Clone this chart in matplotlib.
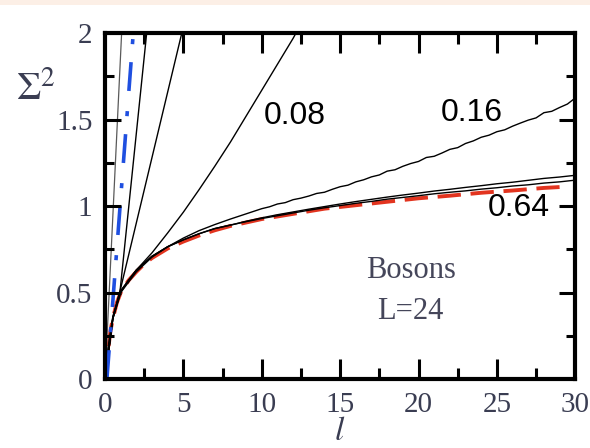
import numpy as np
import matplotlib.pyplot as plt
from matplotlib.patches import Rectangle
from matplotlib.ticker import MultipleLocator

plt.rcParams['mathtext.fontset'] = 'stix'

# 平衡曲线（红色虚线）
l_eq = [0, 0.1, 0.2, 0.35, 0.5, 0.75, 1, 1.5, 2, 2.5, 3, 4, 5, 6, 7, 8, 9, 10,
        12, 14, 16, 18, 20, 22, 24, 26, 28, 29]
s_eq = [0, 0.08, 0.17, 0.28, 0.35, 0.44, 0.50, 0.57, 0.62, 0.665, 0.70, 0.755,
        0.795, 0.83, 0.86, 0.885, 0.905, 0.925, 0.955, 0.985, 1.005, 1.025,
        1.045, 1.06, 1.077, 1.09, 1.105, 1.11]

# 黑色曲线（接近平衡，0.64 一族）
l_late = [0, 0.2, 0.5, 1, 2, 3, 4, 5, 6, 7, 8, 9, 10, 11, 12, 13, 14, 15, 16, 17,
          18, 19, 20, 21, 22, 23, 24, 25, 26, 27, 28, 29, 30]
s_064 = [0, 0.18, 0.36, 0.51, 0.63, 0.71, 0.765, 0.805, 0.84, 0.87, 0.89, 0.91,
         0.928, 0.944, 0.96, 0.976, 0.99, 1.003, 1.016, 1.027, 1.04, 1.05, 1.06,
         1.071, 1.08, 1.088, 1.098, 1.106, 1.116, 1.123, 1.133, 1.14, 1.15]
s_032 = [0, 0.18, 0.36, 0.51, 0.63, 0.71, 0.765, 0.805, 0.84, 0.87, 0.89, 0.912,
         0.932, 0.95, 0.966, 0.982, 0.997, 1.012, 1.026, 1.039, 1.052, 1.064, 1.075,
         1.087, 1.097, 1.108, 1.118, 1.129, 1.138, 1.149, 1.16, 1.168, 1.178]

# 0.16 曲线
l_016 = [0, 0.5, 1, 2, 3, 4, 5, 6, 7, 8, 9, 10, 10.5, 11, 11.5, 12, 12.5, 13, 13.5,
         14, 14.5, 15, 15.5, 16, 16.5, 17, 17.5, 18, 18.5, 19, 19.5, 20, 20.5, 21,
         21.5, 22, 22.5, 23, 23.5, 24, 24.5, 25, 25.5, 26, 26.5, 27, 27.5, 28,
         28.5, 29, 29.5, 30]
s_016 = [0, 0.35, 0.5, 0.62, 0.705, 0.765, 0.815, 0.858, 0.893, 0.925, 0.955,
         0.985, 0.996, 1.012, 1.02, 1.037, 1.046, 1.058, 1.073, 1.08, 1.097,
         1.112, 1.121, 1.14, 1.152, 1.169, 1.18, 1.202, 1.21, 1.23, 1.246, 1.258,
         1.281, 1.288, 1.307, 1.328, 1.338, 1.362, 1.377, 1.398, 1.41, 1.43,
         1.441, 1.462, 1.48, 1.497, 1.51, 1.54, 1.548, 1.57, 1.59, 1.625]

# 0.08 曲线
l_008 = [0, 0.5, 1, 1.5, 2, 3, 4, 5, 6, 7, 8, 9, 10, 11, 12, 12.3]
s_008 = [0, 0.35, 0.5, 0.57, 0.63, 0.73, 0.845, 0.965, 1.095, 1.23, 1.37, 1.52,
         1.67, 1.82, 1.97, 2.02]

# 早期的陡峭直线
l_s1 = [0, 0.5, 0.96, 4.95]
s_s1 = [0, 0.35, 0.51, 2.02]
l_s2 = [0, 0.5, 0.96, 2.68]
s_s2 = [0, 0.35, 0.51, 2.02]
l_s3 = [0, 1.07]
s_s3 = [0, 2.02]
l_blue = [0.12, 1.82]
s_blue = [0, 2.02]

labels = ['0.08', '0.16', '0.64']
label_x = [12.1, 23.4, 26.4]
label_y = [1.52, 1.54, 0.99]

x_major = [5, 10, 15, 20, 25]
x_minor = [2.5, 7.5, 12.5, 17.5, 22.5, 27.5]
y_major = [0.5, 1, 1.5]
y_minor = [0.25, 0.75, 1.25, 1.75]

fig, ax = plt.subplots(figsize=(5.9, 4.48), dpi=100)
fig.subplots_adjust(left=0.178, right=0.975, bottom=0.154, top=0.926)
fig.add_artist(Rectangle((0, 0.988), 1, 0.012, transform=fig.transFigure,
                         facecolor='#fcefe6', edgecolor='none', zorder=-1))

ax.plot(l_eq, s_eq, color='#e2341f', lw=2.8, dashes=(6, 2.5))
ax.plot(l_late, s_064, color='k', lw=1.0)
ax.plot(l_late, s_032, color='k', lw=1.0)
ax.plot(l_016, s_016, color='k', lw=1.0)
ax.plot(l_008, s_008, color='k', lw=1.0)
ax.plot(l_s1, s_s1, color='k', lw=1.0)
ax.plot(l_s2, s_s2, color='k', lw=1.0)
ax.plot(l_s3, s_s3, color='0.35', lw=0.9)
ax.plot(l_blue, s_blue, color='#1f4fe0', lw=2.6, dashes=(8, 5, 1.4, 5.6))

for t, x, y in zip(labels, label_x, label_y):
    ax.text(x, y, t, fontsize=23, family='Liberation Sans', ha='center', va='center')

ax.text(19.5, 0.63, 'Bosons', fontsize=22, family='Liberation Serif',
        color='#45465a', ha='center', va='center')
ax.text(19.5, 0.39, 'L=24', fontsize=22, family='Liberation Serif',
        color='#45465a', ha='center', va='center')

ax.set_xlim(0, 30)
ax.set_ylim(0, 2)
ax.xaxis.set_major_locator(MultipleLocator(5))
ax.yaxis.set_major_locator(MultipleLocator(0.5))
ax.yaxis.set_major_formatter(lambda v, p: f'{v:g}')
for lab in ax.get_xticklabels() + ax.get_yticklabels():
    lab.set_family('Liberation Serif')
for sp in ax.spines.values():
    sp.set_linewidth(3)

# 向内的刻度线（直接画在轴坐标里）
xt = ax.get_xaxis_transform()
yt = ax.get_yaxis_transform()
tk = dict(color='k', lw=2.2, clip_on=False, zorder=4)
ax.vlines(x_major, 0, 0.058, transform=xt, **tk)
ax.vlines(x_major, 1 - 0.058, 1, transform=xt, **tk)
ax.vlines(x_minor, 0, 0.032, transform=xt, **tk)
ax.vlines(x_minor, 1 - 0.032, 1, transform=xt, **tk)
ax.hlines(y_major, 0, 0.035, transform=yt, **tk)
ax.hlines(y_major, 1 - 0.035, 1, transform=yt, **tk)
ax.hlines(y_minor, 0, 0.02, transform=yt, **tk)
ax.hlines(y_minor, 1 - 0.02, 1, transform=yt, **tk)

ax.tick_params(which='both', length=0, labelsize=21, labelcolor='#3a3d52', pad=9)

ax.set_xlabel('$l$', fontsize=24, color='#3a3d52')
ax.xaxis.set_label_coords(0.5, -0.1)
ax.text(-0.19, 0.84, r'$\Sigma^2$', transform=ax.transAxes, fontsize=28,
        color='#3a3d52', ha='left', va='center')

fig.savefig('out.png', dpi=100)
